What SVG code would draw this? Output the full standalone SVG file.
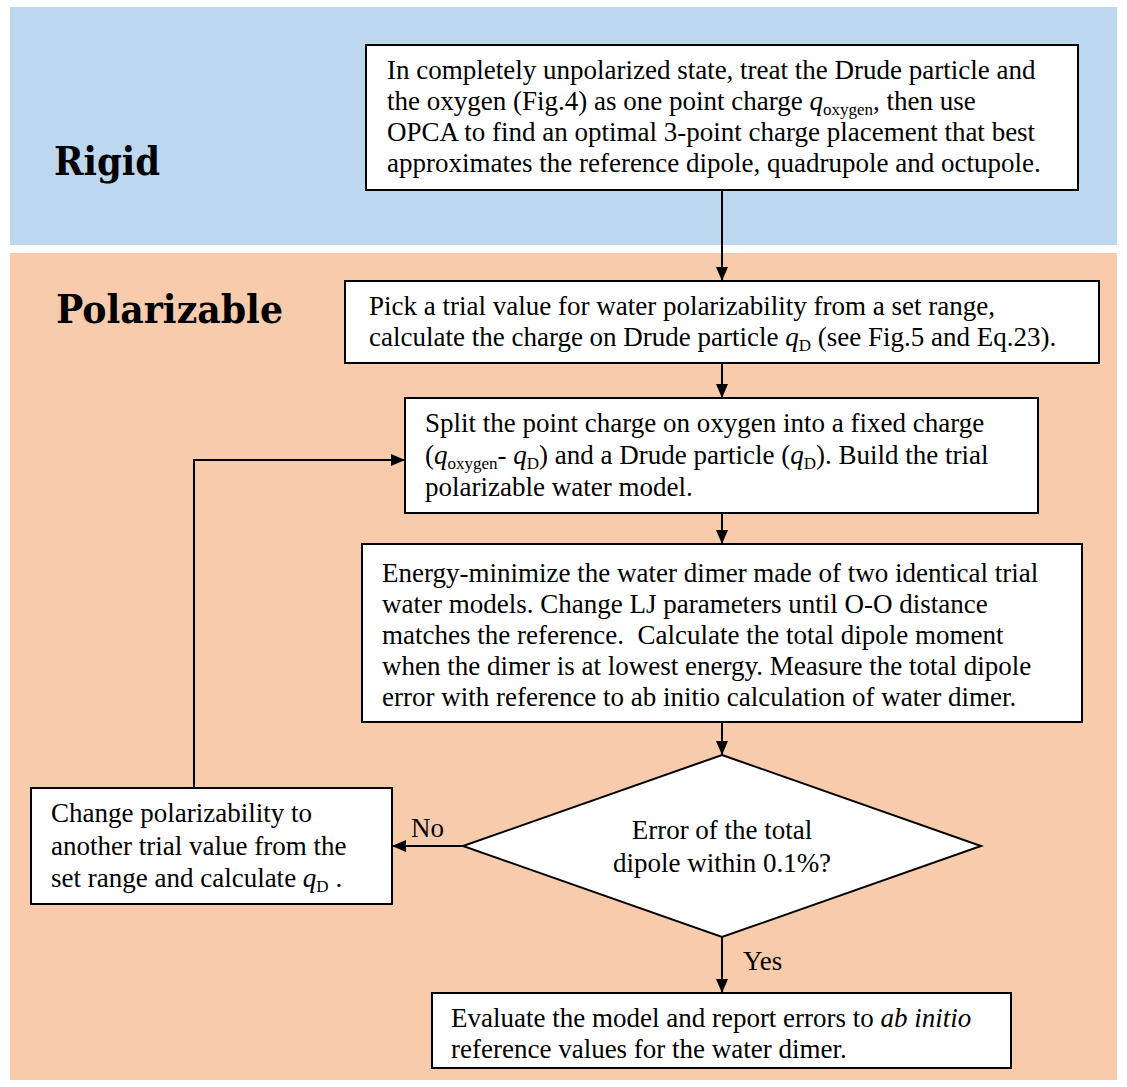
<svg xmlns="http://www.w3.org/2000/svg" width="1127" height="1087" viewBox="0 0 1127 1087">
<style>
.t{font-family:"Liberation Serif","Times New Roman",serif;font-size:27px;fill:#000}
.h{font-family:"DejaVu Serif Condensed","DejaVu Serif",serif;font-weight:bold;font-size:39px;fill:#000}
.box{fill:#fff;stroke:#000;stroke-width:2}
.ln{fill:none;stroke:#000;stroke-width:2}
.i{font-style:italic}
.s{font-size:17px}
</style>
<defs>
<marker id="ah" markerWidth="14" markerHeight="12" refX="13" refY="6" orient="auto" markerUnits="userSpaceOnUse">
<path d="M0,0 L14,6 L0,12 Z" fill="#000"/>
</marker>
</defs>
<rect x="10" y="7" width="1107" height="238" fill="#BDD7EE"/>
<rect x="10" y="253" width="1107" height="827" fill="#F8CBAD"/>
<text class="h" x="54" y="175" textLength="106" lengthAdjust="spacingAndGlyphs">Rigid</text>
<text class="h" x="56" y="323" textLength="227" lengthAdjust="spacingAndGlyphs">Polarizable</text>
<g id="connectors">
<line class="ln" x1="722" y1="190" x2="722" y2="280" marker-end="url(#ah)"/>
<line class="ln" x1="722" y1="363" x2="722" y2="397" marker-end="url(#ah)"/>
<line class="ln" x1="722" y1="513" x2="722" y2="543" marker-end="url(#ah)"/>
<line class="ln" x1="722" y1="722" x2="722" y2="754" marker-end="url(#ah)"/>
<line class="ln" x1="722" y1="937" x2="722" y2="992" marker-end="url(#ah)"/>
<line class="ln" x1="463" y1="846" x2="393" y2="846" marker-end="url(#ah)"/>
<polyline class="ln" points="194,788 194,460 404,460" marker-end="url(#ah)"/>
<text class="t" x="411" y="837">No</text>
<text class="t" x="743" y="970">Yes</text>
</g>
<g id="n1">
<rect class="box" x="366" y="45" width="712" height="145"/>
<text class="t" x="387" y="79">In completely unpolarized state, treat the Drude particle and</text>
<text class="t" x="387" y="110">the oxygen (Fig.4) as one point charge <tspan class="i">q</tspan><tspan class="s" dy="5">oxygen</tspan><tspan dy="-5">, then use</tspan></text>
<text class="t" x="387" y="141">OPCA to find an optimal 3-point charge placement that best</text>
<text class="t" x="387" y="172">approximates the reference dipole, quadrupole and octupole.</text>
</g>
<g id="n2">
<rect class="box" x="345" y="281" width="754" height="82"/>
<text class="t" x="369" y="315">Pick a trial value for water polarizability from a set range,</text>
<text class="t" x="369" y="346">calculate the charge on Drude particle <tspan class="i">q</tspan><tspan class="s" dy="5">D</tspan><tspan dy="-5"> (see Fig.5 and Eq.23).</tspan></text>
</g>
<g id="n3">
<rect class="box" x="405" y="398" width="633" height="115"/>
<text class="t" x="425" y="432">Split the point charge on oxygen into a fixed charge</text>
<text class="t" x="425" y="464">(<tspan class="i">q</tspan><tspan class="s" dy="5">oxygen</tspan><tspan dy="-5">- </tspan><tspan class="i">q</tspan><tspan class="s" dy="5">D</tspan><tspan dy="-5">) and a Drude particle (</tspan><tspan class="i">q</tspan><tspan class="s" dy="5">D</tspan><tspan dy="-5">). Build the trial</tspan></text>
<text class="t" x="425" y="496">polarizable water model.</text>
</g>
<g id="n4">
<rect class="box" x="362" y="544" width="720" height="178"/>
<text class="t" x="382" y="582">Energy-minimize the water dimer made of two identical trial</text>
<text class="t" x="382" y="613">water models. Change LJ parameters until O-O distance</text>
<text class="t" x="382" y="644" xml:space="preserve">matches the reference.  Calculate the total dipole moment</text>
<text class="t" x="382" y="675">when the dimer is at lowest energy. Measure the total dipole</text>
<text class="t" x="382" y="706">error with reference to ab initio calculation of water dimer.</text>
</g>
<g id="n5">
<polygon class="box" points="722,755 981,846 722,937 463,846"/>
<text class="t" x="722" y="839" text-anchor="middle">Error of the total</text>
<text class="t" x="722" y="872" text-anchor="middle">dipole within 0.1%?</text>
</g>
<g id="n6">
<rect class="box" x="31" y="788" width="361" height="116"/>
<text class="t" x="51" y="822">Change polarizability to</text>
<text class="t" x="51" y="855">another trial value from the</text>
<text class="t" x="51" y="887">set range and calculate <tspan class="i">q</tspan><tspan class="s" dy="5">D</tspan><tspan dy="-5"> .</tspan></text>
</g>
<g id="n7">
<rect class="box" x="432" y="993" width="579" height="75"/>
<text class="t" x="451" y="1027">Evaluate the model and report errors to <tspan class="i">ab initio</tspan></text>
<text class="t" x="451" y="1058">reference values for the water dimer.</text>
</g>
</svg>
